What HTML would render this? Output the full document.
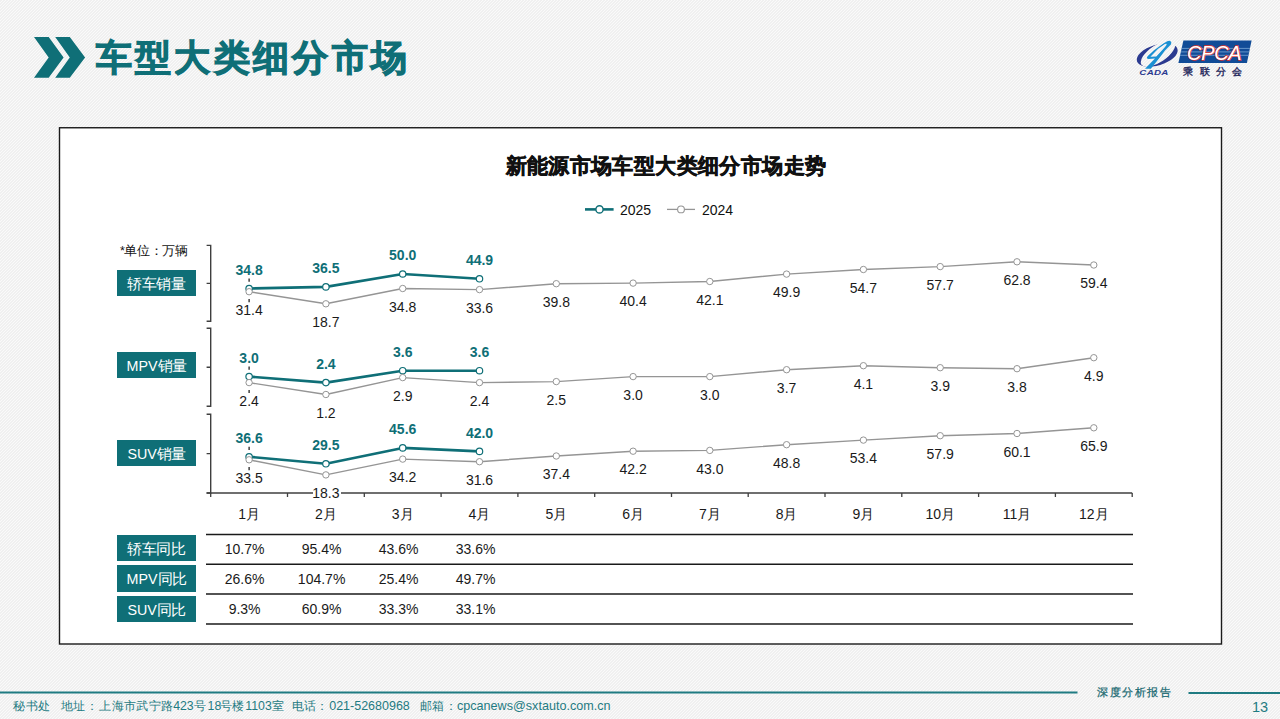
<!DOCTYPE html>
<html><head><meta charset="utf-8">
<style>
html,body{margin:0;padding:0;}
body{width:1280px;height:719px;overflow:hidden;position:relative;font-family:"Liberation Sans",sans-serif;
background-color:#f6f6f6;}
.abs{position:absolute;}
svg text{font-family:"Liberation Sans",sans-serif;}
.lb{font-size:14px;fill:#1a1a1a;text-anchor:middle;}
.la{font-size:14px;fill:#0f6f77;font-weight:bold;text-anchor:middle;}
.mo{font-size:14px;fill:#1a1a1a;text-anchor:middle;}
.tv{font-size:14px;fill:#1a1a1a;text-anchor:middle;}
.ft{position:absolute;top:698px;font-size:12.5px;line-height:16px;color:#1f7b82;white-space:pre;}
.cj{letter-spacing:-0.6px;}
.box{position:absolute;left:117px;width:79px;height:26px;background:#0f6f77;color:#fff;font-size:15px;line-height:27px;text-align:center;}
</style></head><body>
<svg class="abs" style="left:0;top:0" width="1280" height="719" viewBox="0 0 1280 719">
<defs><pattern id="bgp" width="3" height="3" patternUnits="userSpaceOnUse"><rect width="3" height="3" fill="#f0f0f0"/><rect x="0" y="2" width="1" height="1" fill="#fafafa"/><rect x="1" y="1" width="1" height="1" fill="#fafafa"/><rect x="2" y="0" width="1" height="1" fill="#fafafa"/></pattern></defs>
<rect width="1280" height="719" fill="url(#bgp)" shape-rendering="crispEdges"/>
<polygon points="34,37 48.7,37 63.6,57.5 48.7,77.8 34,77.8 48.7,57.5" fill="#0f6f77"/>
<polygon points="55.2,37 69.8,37 85.1,57.5 69.8,77.8 55.2,77.8 69.8,57.5" fill="#0f6f77"/>
<text x="95.5" y="69.5" style="font-size:36px;font-weight:900;letter-spacing:3.4px;fill:#0f6f77;stroke:#0f6f77;stroke-width:1.1px">车型大类细分市场</text>
<rect x="59.5" y="127.75" width="1162" height="516.25" fill="#fff" stroke="#1a1a1a" stroke-width="1.4"/>
<text x="666" y="173" text-anchor="middle" style="font-size:21px;font-weight:900;letter-spacing:0.4px;fill:#111;stroke:#111;stroke-width:0.6px">新能源市场车型大类细分市场走势</text>
<path d="M585 209.4H613.6" stroke="#0f6f77" stroke-width="2.6"/>
<circle cx="599.5" cy="209.4" r="3.6" fill="#fff" stroke="#0f6f77" stroke-width="1.4"/>
<text x="620" y="214.5" style="font-size:14px;fill:#111">2025</text>
<path d="M667 209.4H695" stroke="#959595" stroke-width="1.3"/>
<circle cx="681" cy="209.4" r="3.4" fill="#fff" stroke="#959595" stroke-width="1.1"/>
<text x="702" y="214.5" style="font-size:14px;fill:#111">2024</text>
<text x="120" y="255" style="font-size:12.5px;fill:#111;letter-spacing:-0.45px">*单位：万辆</text>
<path d="M206.6 245.4H210.7V321.3H206.6M206.6 283.4H210.7" fill="none" stroke="#3f3f3f" stroke-width="1.4"/><path d="M206.6 328.2H210.7V406.3H206.6M206.6 367.2H210.7" fill="none" stroke="#3f3f3f" stroke-width="1.4"/><path d="M206.6 414.2H210.7V493.0H206.6M206.6 453.6H210.7" fill="none" stroke="#3f3f3f" stroke-width="1.4"/><path d="M206.6 493H1132.2" stroke="#3f3f3f" stroke-width="1.5" fill="none"/><path d="M210.7 493V497M287.5 493V497M364.3 493V497M441.1 493V497M517.9 493V497M594.7 493V497M671.5 493V497M748.2 493V497M825.0 493V497M901.8 493V497M978.6 493V497M1055.4 493V497M1132.2 493V497" stroke="#3f3f3f" stroke-width="1.3" fill="none"/><path d="M249.1 278.5V281.7M249.1 299.0V302.2" stroke="#111" stroke-width="1.2" fill="none"/><polyline points="249.1,288.5 325.9,286.9 402.7,274.0 479.5,278.8" fill="none" stroke="#0f6f77" stroke-width="2.6" stroke-linejoin="round"/><circle cx="249.1" cy="288.5" r="3.2" fill="#fff" stroke="#0f6f77" stroke-width="1.2"/><circle cx="325.9" cy="286.9" r="3.2" fill="#fff" stroke="#0f6f77" stroke-width="1.2"/><circle cx="402.7" cy="274.0" r="3.2" fill="#fff" stroke="#0f6f77" stroke-width="1.2"/><circle cx="479.5" cy="278.8" r="3.2" fill="#fff" stroke="#0f6f77" stroke-width="1.2"/><polyline points="249.1,291.7 325.9,303.8 402.7,288.5 479.5,289.6 556.3,283.7 633.1,283.1 709.8,281.5 786.6,274.1 863.4,269.5 940.2,266.6 1017.0,261.8 1093.8,265.0" fill="none" stroke="#959595" stroke-width="1.45" stroke-linejoin="round"/><circle cx="249.1" cy="291.7" r="3.2" fill="#fff" stroke="#959595" stroke-width="1.0"/><circle cx="325.9" cy="303.8" r="3.2" fill="#fff" stroke="#959595" stroke-width="1.0"/><circle cx="402.7" cy="288.5" r="3.2" fill="#fff" stroke="#959595" stroke-width="1.0"/><circle cx="479.5" cy="289.6" r="3.2" fill="#fff" stroke="#959595" stroke-width="1.0"/><circle cx="556.3" cy="283.7" r="3.2" fill="#fff" stroke="#959595" stroke-width="1.0"/><circle cx="633.1" cy="283.1" r="3.2" fill="#fff" stroke="#959595" stroke-width="1.0"/><circle cx="709.8" cy="281.5" r="3.2" fill="#fff" stroke="#959595" stroke-width="1.0"/><circle cx="786.6" cy="274.1" r="3.2" fill="#fff" stroke="#959595" stroke-width="1.0"/><circle cx="863.4" cy="269.5" r="3.2" fill="#fff" stroke="#959595" stroke-width="1.0"/><circle cx="940.2" cy="266.6" r="3.2" fill="#fff" stroke="#959595" stroke-width="1.0"/><circle cx="1017.0" cy="261.8" r="3.2" fill="#fff" stroke="#959595" stroke-width="1.0"/><circle cx="1093.8" cy="265.0" r="3.2" fill="#fff" stroke="#959595" stroke-width="1.0"/><path d="M249.1 366.6V369.8M249.1 389.9V393.1" stroke="#111" stroke-width="1.2" fill="none"/><polyline points="249.1,376.6 325.9,382.6 402.7,370.7 479.5,370.7" fill="none" stroke="#0f6f77" stroke-width="2.6" stroke-linejoin="round"/><circle cx="249.1" cy="376.6" r="3.2" fill="#fff" stroke="#0f6f77" stroke-width="1.2"/><circle cx="325.9" cy="382.6" r="3.2" fill="#fff" stroke="#0f6f77" stroke-width="1.2"/><circle cx="402.7" cy="370.7" r="3.2" fill="#fff" stroke="#0f6f77" stroke-width="1.2"/><circle cx="479.5" cy="370.7" r="3.2" fill="#fff" stroke="#0f6f77" stroke-width="1.2"/><polyline points="249.1,382.6 325.9,394.5 402.7,377.6 479.5,382.6 556.3,381.6 633.1,376.6 709.8,376.6 786.6,369.7 863.4,365.7 940.2,367.7 1017.0,368.7 1093.8,357.7" fill="none" stroke="#959595" stroke-width="1.45" stroke-linejoin="round"/><circle cx="249.1" cy="382.6" r="3.2" fill="#fff" stroke="#959595" stroke-width="1.0"/><circle cx="325.9" cy="394.5" r="3.2" fill="#fff" stroke="#959595" stroke-width="1.0"/><circle cx="402.7" cy="377.6" r="3.2" fill="#fff" stroke="#959595" stroke-width="1.0"/><circle cx="479.5" cy="382.6" r="3.2" fill="#fff" stroke="#959595" stroke-width="1.0"/><circle cx="556.3" cy="381.6" r="3.2" fill="#fff" stroke="#959595" stroke-width="1.0"/><circle cx="633.1" cy="376.6" r="3.2" fill="#fff" stroke="#959595" stroke-width="1.0"/><circle cx="709.8" cy="376.6" r="3.2" fill="#fff" stroke="#959595" stroke-width="1.0"/><circle cx="786.6" cy="369.7" r="3.2" fill="#fff" stroke="#959595" stroke-width="1.0"/><circle cx="863.4" cy="365.7" r="3.2" fill="#fff" stroke="#959595" stroke-width="1.0"/><circle cx="940.2" cy="367.7" r="3.2" fill="#fff" stroke="#959595" stroke-width="1.0"/><circle cx="1017.0" cy="368.7" r="3.2" fill="#fff" stroke="#959595" stroke-width="1.0"/><circle cx="1093.8" cy="357.7" r="3.2" fill="#fff" stroke="#959595" stroke-width="1.0"/><path d="M249.1 446.8V450.0M249.1 467.1V470.3" stroke="#111" stroke-width="1.2" fill="none"/><polyline points="249.1,456.8 325.9,463.8 402.7,447.9 479.5,451.4" fill="none" stroke="#0f6f77" stroke-width="2.6" stroke-linejoin="round"/><circle cx="249.1" cy="456.8" r="3.2" fill="#fff" stroke="#0f6f77" stroke-width="1.2"/><circle cx="325.9" cy="463.8" r="3.2" fill="#fff" stroke="#0f6f77" stroke-width="1.2"/><circle cx="402.7" cy="447.9" r="3.2" fill="#fff" stroke="#0f6f77" stroke-width="1.2"/><circle cx="479.5" cy="451.4" r="3.2" fill="#fff" stroke="#0f6f77" stroke-width="1.2"/><polyline points="249.1,459.8 325.9,474.9 402.7,459.1 479.5,461.7 556.3,456.0 633.1,451.2 709.8,450.4 786.6,444.7 863.4,440.1 940.2,435.7 1017.0,433.5 1093.8,427.8" fill="none" stroke="#959595" stroke-width="1.45" stroke-linejoin="round"/><circle cx="249.1" cy="459.8" r="3.2" fill="#fff" stroke="#959595" stroke-width="1.0"/><circle cx="325.9" cy="474.9" r="3.2" fill="#fff" stroke="#959595" stroke-width="1.0"/><circle cx="402.7" cy="459.1" r="3.2" fill="#fff" stroke="#959595" stroke-width="1.0"/><circle cx="479.5" cy="461.7" r="3.2" fill="#fff" stroke="#959595" stroke-width="1.0"/><circle cx="556.3" cy="456.0" r="3.2" fill="#fff" stroke="#959595" stroke-width="1.0"/><circle cx="633.1" cy="451.2" r="3.2" fill="#fff" stroke="#959595" stroke-width="1.0"/><circle cx="709.8" cy="450.4" r="3.2" fill="#fff" stroke="#959595" stroke-width="1.0"/><circle cx="786.6" cy="444.7" r="3.2" fill="#fff" stroke="#959595" stroke-width="1.0"/><circle cx="863.4" cy="440.1" r="3.2" fill="#fff" stroke="#959595" stroke-width="1.0"/><circle cx="940.2" cy="435.7" r="3.2" fill="#fff" stroke="#959595" stroke-width="1.0"/><circle cx="1017.0" cy="433.5" r="3.2" fill="#fff" stroke="#959595" stroke-width="1.0"/><circle cx="1093.8" cy="427.8" r="3.2" fill="#fff" stroke="#959595" stroke-width="1.0"/>
<rect x="313" y="486" width="28" height="12" fill="#fff"/>
<text x="249.1" y="314.8" class="lb">31.4</text><text x="325.9" y="326.9" class="lb">18.7</text><text x="402.7" y="311.6" class="lb">34.8</text><text x="479.5" y="312.7" class="lb">33.6</text><text x="556.3" y="306.8" class="lb">39.8</text><text x="633.1" y="306.2" class="lb">40.4</text><text x="709.8" y="304.6" class="lb">42.1</text><text x="786.6" y="297.2" class="lb">49.9</text><text x="863.4" y="292.6" class="lb">54.7</text><text x="940.2" y="289.7" class="lb">57.7</text><text x="1017.0" y="284.9" class="lb">62.8</text><text x="1093.8" y="288.1" class="lb">59.4</text><text x="249.1" y="274.6" class="la">34.8</text><text x="325.9" y="273.0" class="la">36.5</text><text x="402.7" y="260.1" class="la">50.0</text><text x="479.5" y="264.9" class="la">44.9</text><text x="249.1" y="405.7" class="lb">2.4</text><text x="325.9" y="417.6" class="lb">1.2</text><text x="402.7" y="400.7" class="lb">2.9</text><text x="479.5" y="405.7" class="lb">2.4</text><text x="556.3" y="404.7" class="lb">2.5</text><text x="633.1" y="399.7" class="lb">3.0</text><text x="709.8" y="399.7" class="lb">3.0</text><text x="786.6" y="392.8" class="lb">3.7</text><text x="863.4" y="388.8" class="lb">4.1</text><text x="940.2" y="390.8" class="lb">3.9</text><text x="1017.0" y="391.8" class="lb">3.8</text><text x="1093.8" y="380.8" class="lb">4.9</text><text x="249.1" y="362.7" class="la">3.0</text><text x="325.9" y="368.7" class="la">2.4</text><text x="402.7" y="356.8" class="la">3.6</text><text x="479.5" y="356.8" class="la">3.6</text><text x="249.1" y="482.9" class="lb">33.5</text><text x="325.9" y="498.0" class="lb">18.3</text><text x="402.7" y="482.2" class="lb">34.2</text><text x="479.5" y="484.8" class="lb">31.6</text><text x="556.3" y="479.1" class="lb">37.4</text><text x="633.1" y="474.3" class="lb">42.2</text><text x="709.8" y="473.5" class="lb">43.0</text><text x="786.6" y="467.8" class="lb">48.8</text><text x="863.4" y="463.2" class="lb">53.4</text><text x="940.2" y="458.8" class="lb">57.9</text><text x="1017.0" y="456.6" class="lb">60.1</text><text x="1093.8" y="450.9" class="lb">65.9</text><text x="249.1" y="442.9" class="la">36.6</text><text x="325.9" y="449.9" class="la">29.5</text><text x="402.7" y="434.0" class="la">45.6</text><text x="479.5" y="437.5" class="la">42.0</text>
<text x="249.1" y="519" class="mo">1月</text><text x="325.9" y="519" class="mo">2月</text><text x="402.7" y="519" class="mo">3月</text><text x="479.5" y="519" class="mo">4月</text><text x="556.3" y="519" class="mo">5月</text><text x="633.1" y="519" class="mo">6月</text><text x="709.8" y="519" class="mo">7月</text><text x="786.6" y="519" class="mo">8月</text><text x="863.4" y="519" class="mo">9月</text><text x="940.2" y="519" class="mo">10月</text><text x="1017.0" y="519" class="mo">11月</text><text x="1093.8" y="519" class="mo">12月</text>
<path d="M206 534.5H1133" stroke="#1a1a1a" stroke-width="1.6"/><path d="M206 564.2H1133" stroke="#1a1a1a" stroke-width="1.6"/><path d="M206 594.0H1133" stroke="#1a1a1a" stroke-width="1.6"/><path d="M206 624.0H1133" stroke="#1a1a1a" stroke-width="1.6"/><text x="244.6" y="554.0" class="tv">10.7%</text><text x="321.6" y="554.0" class="tv">95.4%</text><text x="398.6" y="554.0" class="tv">43.6%</text><text x="475.6" y="554.0" class="tv">33.6%</text><text x="244.6" y="583.8" class="tv">26.6%</text><text x="321.6" y="583.8" class="tv">104.7%</text><text x="398.6" y="583.8" class="tv">25.4%</text><text x="475.6" y="583.8" class="tv">49.7%</text><text x="244.6" y="613.6" class="tv">9.3%</text><text x="321.6" y="613.6" class="tv">60.9%</text><text x="398.6" y="613.6" class="tv">33.3%</text><text x="475.6" y="613.6" class="tv">33.1%</text>
<path d="M0 692.5H1077.5" stroke="#1f7b82" stroke-width="2"/>
<path d="M1188.5 693H1280" stroke="#1f7b82" stroke-width="2"/>
<text x="1097" y="696" style="font-family:'Liberation Serif',serif;font-size:11px;fill:#1a6a72;stroke:#1a6a72;stroke-width:0.25px;letter-spacing:1.6px">深度分析报告</text>

<g id="logo">
<defs><mask id="ringm"><rect x="1120" y="30" width="70" height="50" fill="#fff"/><ellipse cx="1158.4" cy="53.9" rx="19.9" ry="8.7" transform="rotate(-17 1158.4 53.9)" fill="#000"/></mask></defs>
<ellipse cx="1157.2" cy="55.1" rx="21.2" ry="10.3" transform="rotate(-17 1157.2 55.1)" fill="#2b3a90" mask="url(#ringm)"/>
<path fill="#1a90d3" fill-rule="evenodd" d="M1145 68.75 L1150.8 68.75 L1159.4 58.1 L1165 50.6 L1170.9 44.6 Q1172.2 41.2 1169.4 40.8 Q1166.6 41 1161.25 45 L1153.75 50.6 L1147.8 56 Q1145.6 58.6 1148.75 59 L1155 58.5 Z M1150.4 56.7 L1156.3 56.6 L1165 46.9 Q1168.5 42.8 1165 43.9 L1158.1 48.75 Z"/>
<text x="1139.3" y="74.7" transform="translate(1139.3 0) scale(1.55 1) translate(-1139.3 0)" style="font-family:'Liberation Sans',sans-serif;font-weight:bold;font-style:italic;font-size:6.3px;letter-spacing:0.2px;fill:#2b3a90">CADA</text>
<polygon points="1183.4,40.5 1251.6,40.5 1246.9,63 1178.4,63" fill="#114c97"/>
<path d="M1181.5 48.4H1250M1180.8 51.9H1249.3M1180 55.3H1248.6" stroke="#7aa6d6" stroke-width="0.8"/>
<text x="1187" y="59.6" style="font-family:'Liberation Sans',sans-serif;font-style:italic;font-size:20px;fill:#fff;stroke:#e0302a;stroke-width:1.3px;paint-order:stroke;letter-spacing:-0.3px">CPCA</text>
<text x="1183.2" y="74.6" style="font-size:10.4px;fill:#1c2358;stroke:#1c2358;stroke-width:0.35px;letter-spacing:6.4px">乘联分会</text>
</g>
<text x="1252" y="712" style="font-size:14.5px;fill:#1f7b82">13</text>

</svg>
<div class="box" style="top:270px;letter-spacing:-0.6px;text-indent:-0.6px">轿车销量</div>
<div class="box" style="top:352px"><span style="font-size:14.3px">MPV</span><span class="cj">销量</span></div>
<div class="box" style="top:440px"><span style="font-size:14.3px">SUV</span><span class="cj">销量</span></div>
<div class="box" style="top:535.2px;height:26.3px;letter-spacing:-0.6px;text-indent:-0.6px">轿车同比</div>
<div class="box" style="top:565.1px;height:26.6px"><span style="font-size:14.3px">MPV</span><span class="cj">同比</span></div>
<div class="box" style="top:596.1px;height:25.5px"><span style="font-size:14.3px">SUV</span><span class="cj">同比</span></div>
<div class="ft" style="left:13.2px;font-size:12px;letter-spacing:0.6px">秘书处</div>
<div class="ft" style="left:61.0px;font-size:12px;letter-spacing:0.25px">地址：</div>
<div class="ft" style="left:99.3px;font-size:12px;letter-spacing:0.35px">上海市武宁路</div>
<div class="ft" style="left:173.2px;font-size:12.3px;letter-spacing:0px">423</div>
<div class="ft" style="left:193.6px;font-size:12px;letter-spacing:0px">号</div>
<div class="ft" style="left:207.6px;font-size:12.3px;letter-spacing:0px">18</div>
<div class="ft" style="left:219.9px;font-size:12px;letter-spacing:0.3px">号楼</div>
<div class="ft" style="left:245.3px;font-size:12.3px;letter-spacing:0px">1103</div>
<div class="ft" style="left:272.4px;font-size:12px;letter-spacing:0px">室</div>
<div class="ft" style="left:291.8px;font-size:12px;letter-spacing:0.3px">电话：</div>
<div class="ft" style="left:329.2px;font-size:12.5px;letter-spacing:0px">021-52680968</div>
<div class="ft" style="left:420.1px;font-size:12px;letter-spacing:0.3px">邮箱：</div>
<div class="ft" style="left:457.0px;font-size:12.6px;letter-spacing:0px">cpcanews@sxtauto.com.cn</div>
</body></html>
